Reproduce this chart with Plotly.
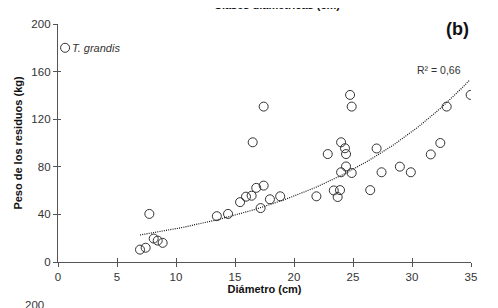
import numpy as np
import plotly.graph_objects as go

# Data
diametro = [6.95, 7.43, 7.74, 8.11, 8.45, 8.87, 13.46, 14.41, 15.43, 15.93,
            16.41, 16.8, 17.43, 16.5, 17.17, 17.96, 18.83, 17.43, 21.9, 22.86,
            23.37, 23.9, 23.7, 23.99, 24.32, 24.41, 24.41, 23.99, 24.89, 24.75,
            24.89, 26.46, 27.0, 27.42, 28.97, 29.9, 31.59, 32.4, 32.94, 34.97]
peso = [10.4, 12.0, 40.4, 19.7, 18.0, 16.1, 38.5, 40.4, 50.3, 54.9,
        55.7, 62.3, 64.2, 100.6, 45.3, 52.7, 55.2, 130.6, 55.2, 90.7,
        60.1, 60.4, 54.6, 100.6, 95.6, 90.7, 80.3, 75.4, 74.8, 140.4,
        130.6, 60.4, 95.4, 75.4, 80.1, 75.4, 90.4, 100.0, 130.6, 140.4]

# exponential trend line y = a * exp(b x)
trend_a = 14.13
trend_b = 0.06827
trend_x_range = [6.95, 34.9]

x_ticks = [0, 5, 10, 15, 20, 25, 30, 35]
y_ticks = [0, 40, 80, 120, 160, 200]

legend_pos = (0.6, 180)

FONT = "Liberation Sans, Arial, sans-serif"
AX = "#555555"

tx = np.linspace(trend_x_range[0], trend_x_range[1], 120)
ty = trend_a * np.exp(trend_b * tx)

fig = go.Figure()
fig.add_trace(go.Scatter(x=tx, y=ty, mode="lines",
                         line=dict(color="#111111", width=1.2, dash="1px,1.2px"),
                         hoverinfo="skip", showlegend=False))
fig.add_trace(go.Scatter(x=diametro, y=peso, mode="markers",
                         marker=dict(symbol="circle-open", size=9, color="#333333",
                                     line=dict(width=1)),
                         showlegend=False))
fig.add_trace(go.Scatter(x=[legend_pos[0]], y=[legend_pos[1]], mode="markers",
                         marker=dict(symbol="circle-open", size=9, color="#333333",
                                     line=dict(width=1)),
                         hoverinfo="skip", showlegend=False, cliponaxis=False))
# ghost trace for inside ticks
fig.add_trace(go.Scatter(x=[None], y=[None], xaxis="x2", yaxis="y2", showlegend=False))

fig.update_layout(
    width=490, height=300,
    margin=dict(l=48, r=27, t=10, b=46),
    paper_bgcolor="white", plot_bgcolor="white",
    font=dict(family=FONT, size=11, color="#333333"),
    xaxis=dict(range=[0, 35], tickvals=x_ticks, showgrid=False, zeroline=False,
               showline=True, linecolor=AX, linewidth=1.3,
               ticks="outside", ticklen=4, tickcolor=AX,
               tickfont=dict(size=11.5, color="#333333"),
               title=dict(text="<b>Diámetro (cm)</b>", font=dict(size=11, color="#111111"),
                          standoff=2)),
    yaxis=dict(range=[0, 200], tickvals=y_ticks, showgrid=False, zeroline=False,
               showline=True, linecolor=AX, linewidth=1.3,
               ticks="outside", ticklen=4, tickcolor=AX,
               tickfont=dict(size=11.5, color="#333333"),
               title=dict(text="<b>Peso de los residuos (kg)</b>", font=dict(size=11, color="#111111"),
                          standoff=6)),
    xaxis2=dict(range=[0, 35], tickvals=x_ticks, overlaying="x", anchor="y",
                showticklabels=False, showgrid=False, zeroline=False,
                ticks="inside", ticklen=4, tickcolor=AX, showline=False),
    yaxis2=dict(range=[0, 200], tickvals=y_ticks, overlaying="y", anchor="x",
                showticklabels=False, showgrid=False, zeroline=False,
                ticks="inside", ticklen=3, tickcolor=AX, showline=False),
    showlegend=False,
)

fig.add_annotation(x=legend_pos[0], y=legend_pos[1], xref="x", yref="y", xshift=5,
                   text="<i>T. grandis</i>",
                   showarrow=False, xanchor="left", font=dict(size=11, color="#333333"))
fig.add_annotation(x=1.0, y=0.98, xref="paper", yref="paper", text="<b>(b)</b>",
                   showarrow=False, xanchor="right", yanchor="middle",
                   font=dict(size=18, color="#111111"))
fig.add_annotation(x=34.3, y=161, xref="x", yref="y", text="R² = 0,66",
                   showarrow=False, xanchor="right", yanchor="middle",
                   font=dict(size=10.5, color="#333333"))
# clipped neighbouring-panel texts
fig.add_annotation(x=0.53, y=1, xref="paper", yref="paper", yshift=11,
                   text="<b>Clases diamétricas (cm)</b>", showarrow=False,
                   yanchor="bottom", font=dict(size=11, color="#111111"))
fig.add_annotation(x=-0.03, y=0, xref="paper", yref="paper", yshift=-43,
                   text="200", showarrow=False, xanchor="right", yanchor="middle",
                   font=dict(size=11.5, color="#333333"))

fig.write_html("out.html")
